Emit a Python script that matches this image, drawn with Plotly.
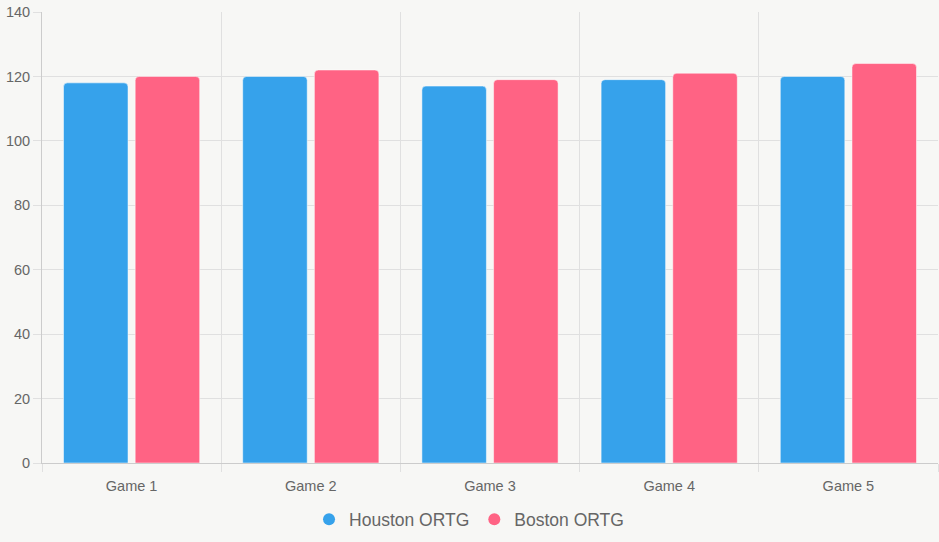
import plotly.graph_objects as go

games = ["Game 1", "Game 2", "Game 3", "Game 4", "Game 5"]
houston = [118, 120, 117, 119, 120]
boston = [120, 122, 119, 121, 124]
names = ["Houston ORTG", "Boston ORTG"]
colors = ["#36A2EB", "#FF6384"]

fig = go.Figure()
for name, vals, col in zip(names, [houston, boston], colors):
    fig.add_trace(go.Bar(
        x=games, y=vals, name=name, showlegend=False, legendgroup=name,
        marker=dict(color=col, line=dict(color="rgba(255,255,255,0.5)", width=1), cornerradius=4),
    ))
for name, col in zip(names, colors):
    fig.add_trace(go.Scatter(
        x=[None], y=[None], mode="markers", name=name, legendgroup=name,
        marker=dict(symbol="circle", size=15, color=col),
    ))

grid = "#e0e0e0"
fig.update_layout(
    width=939, height=542,
    margin=dict(l=42, r=1, t=12, b=79),
    paper_bgcolor="#f7f7f5", plot_bgcolor="#f7f7f5",
    barmode="group", bargap=0.2, bargroupgap=0.1,
    font=dict(family="Liberation Sans, Arial, sans-serif", color="#666666", size=14.5),
    showlegend=True,
    legend=dict(orientation="h", x=0.4766, xanchor="center", y=-0.085, yanchor="top",
                font=dict(size=17.5, color="#666666"), itemsizing="constant"),
    hovermode=False,
)
fig.update_xaxes(
    tickson="boundaries", ticks="outside", ticklen=8, tickcolor=grid,
    showgrid=True, gridcolor=grid, gridwidth=1,
    showline=True, linecolor="#cccccc", linewidth=1, mirror=False,
    tickfont=dict(size=14.5, color="#666666"), ticklabelstandoff=10,
)
fig.update_yaxes(
    range=[0, 140], dtick=20, ticks="outside", ticklen=8, tickcolor=grid,
    showgrid=True, gridcolor=grid, gridwidth=1,
    showline=True, linecolor="#cccccc", linewidth=1,
    zeroline=False,
    tickfont=dict(size=14.5, color="#666666"),
)

fig.write_html("out.html")
